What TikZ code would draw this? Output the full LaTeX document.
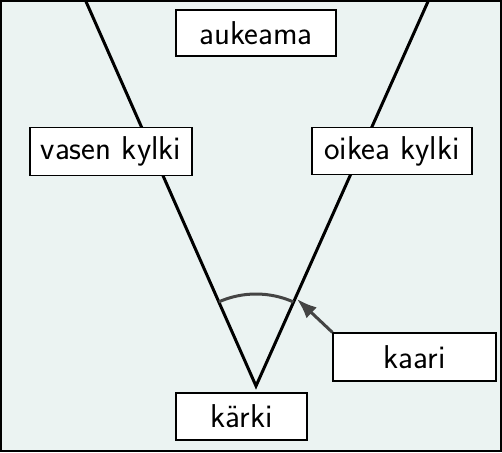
\documentclass[tikz,border=0pt]{standalone}
\usetikzlibrary{arrows.meta}
\definecolor{bg}{HTML}{EBF3F2}
\definecolor{arcgray}{HTML}{444444}
\begin{document}
\begin{tikzpicture}[x=1pt,y=-1pt,
  lbl/.style={draw=black,line width=1.2pt,fill=white,inner sep=0pt,font=\sffamily\fontsize{33}{38}\selectfont},
  side/.style={line width=3pt,black}]
\path[use as bounding box] (0,0) rectangle (502,452);
\draw[fill=bg,line width=1.5pt] (1,1) rectangle (501,451);
\coordinate (v) at (256,386);
\coordinate (lt) at (86,1.5);
\coordinate (rt) at (428,1.5);
\draw[side] (lt) -- (v) -- (rt);
\draw[line width=3pt,arcgray] ([shift={(-113.8:92)}]v) arc[start angle=-113.8,end angle=-66,radius=92];
\coordinate (arcpt) at (297,299);
\node[lbl,minimum width=160pt,minimum height=46pt] (auk) at (256,33) {aukeama};
\node[lbl,minimum width=162pt,minimum height=48pt] (vas) at (111,151.5) {vasen kylki};
\node[lbl,minimum width=160pt,minimum height=47pt] (oik) at (392,151) {oikea kylki};
\node[lbl,minimum width=163pt,minimum height=48pt] (kaari) at (414.5,357) {kaari};
\node[lbl,minimum width=131pt,minimum height=47pt] (karki) at (241.5,416.5) {kärki};
\draw[line width=3pt,arcgray,-{Latex[length=20pt,width=15pt]}] (kaari.north west) -- (arcpt);
\end{tikzpicture}
\end{document}
